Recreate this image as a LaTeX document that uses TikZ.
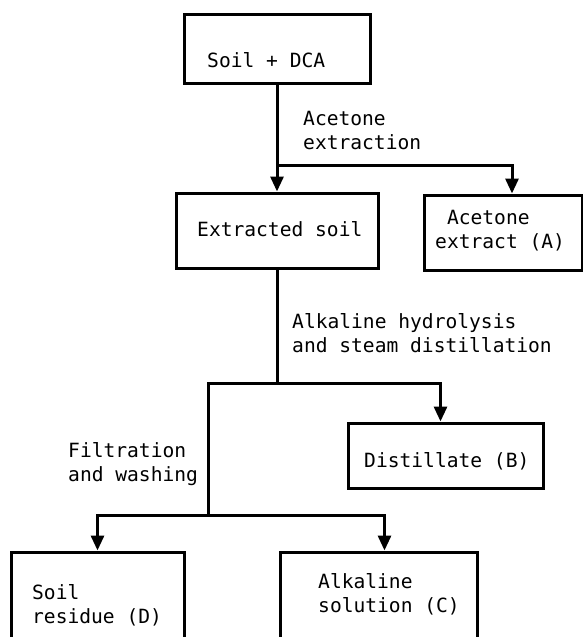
\documentclass[tikz,border=0pt]{standalone}
\usepackage{fontspec}
\setmonofont{DejaVu Sans Mono}
\usetikzlibrary{arrows.meta}
\begin{document}
\begin{tikzpicture}[x=1pt,y=1pt,
  box/.style={draw,line width=3pt,inner sep=0pt},
  conn/.style={line width=3pt,line cap=rect},
  arr/.style={conn,-{Triangle[width=13pt,length=15pt]}},
  lbl/.style={font=\ttfamily\fontsize{19.6}{24}\selectfont,inner sep=0pt,anchor=base west}]
\useasboundingbox (0,0) rectangle (583,-637);
\fill[white] (0,0) rectangle (583,-637);
\clip (0,0) rectangle (583,-637);
% boxes
\node[box,minimum width=186pt,minimum height=69pt] (b1) at (277,-48.5) {};
\node[box,minimum width=202pt,minimum height=75pt] (b2) at (277,-230.5) {};
\node[box,minimum width=158pt,minimum height=75pt] (b3) at (503,-232.5) {};
\node[box,minimum width=195pt,minimum height=65pt] (b4) at (445.5,-455.5) {};
\node[box,minimum width=173pt,minimum height=88pt] (b5) at (97.5,-596) {};
\node[box,minimum width=197pt,minimum height=88pt] (b6) at (378.5,-596) {};
% box texts
\node[lbl] (t1) at (207,-67) {Soil + DCA};
\node[lbl] (t2) at (197,-236.5) {Extracted soil};
\node[lbl] (t3) at (435,-224.5) {\begin{tabular}[t]{@{}l@{}}\phantom{x}Acetone\\extract (A)\end{tabular}};
\node[lbl] (t4) at (364,-467.5) {Distillate (B)};
\node[lbl] (t5) at (32,-599.5) {\begin{tabular}[t]{@{}l@{}}Soil\\residue (D)\end{tabular}};
\node[lbl] (t6) at (318,-588.5) {\begin{tabular}[t]{@{}l@{}}Alkaline\\solution (C)\end{tabular}};
% step labels
\node[lbl] (s1) at (303,-125.5) {\begin{tabular}[t]{@{}l@{}}Acetone\\extraction\end{tabular}};
\node[lbl] (s2) at (292,-328) {\begin{tabular}[t]{@{}l@{}}Alkaline hydrolysis\\and steam distillation\end{tabular}};
\node[lbl] (s3) at (68,-457.5) {\begin{tabular}[t]{@{}l@{}}Filtration\\and washing\end{tabular}};
% junctions
\coordinate (j1) at (277,-165);
\coordinate (j2) at (277,-383);
\coordinate (j2l) at (208,-383);
\coordinate (j3) at (208,-515);
% connectors
\draw[arr] (b1.south) -- (b2.north);
\draw[arr] (j1) -| ([xshift=9pt]b3.north);
\draw[conn] (b2.south) -- (j2) -- (j2l) -- (j3);
\draw[arr] (j2) -| ([xshift=-5pt]b4.north);
\draw[arr] (j3) -| (b5.north);
\draw[arr] (j3) -| ([xshift=6pt]b6.north);
\end{tikzpicture}
\end{document}
